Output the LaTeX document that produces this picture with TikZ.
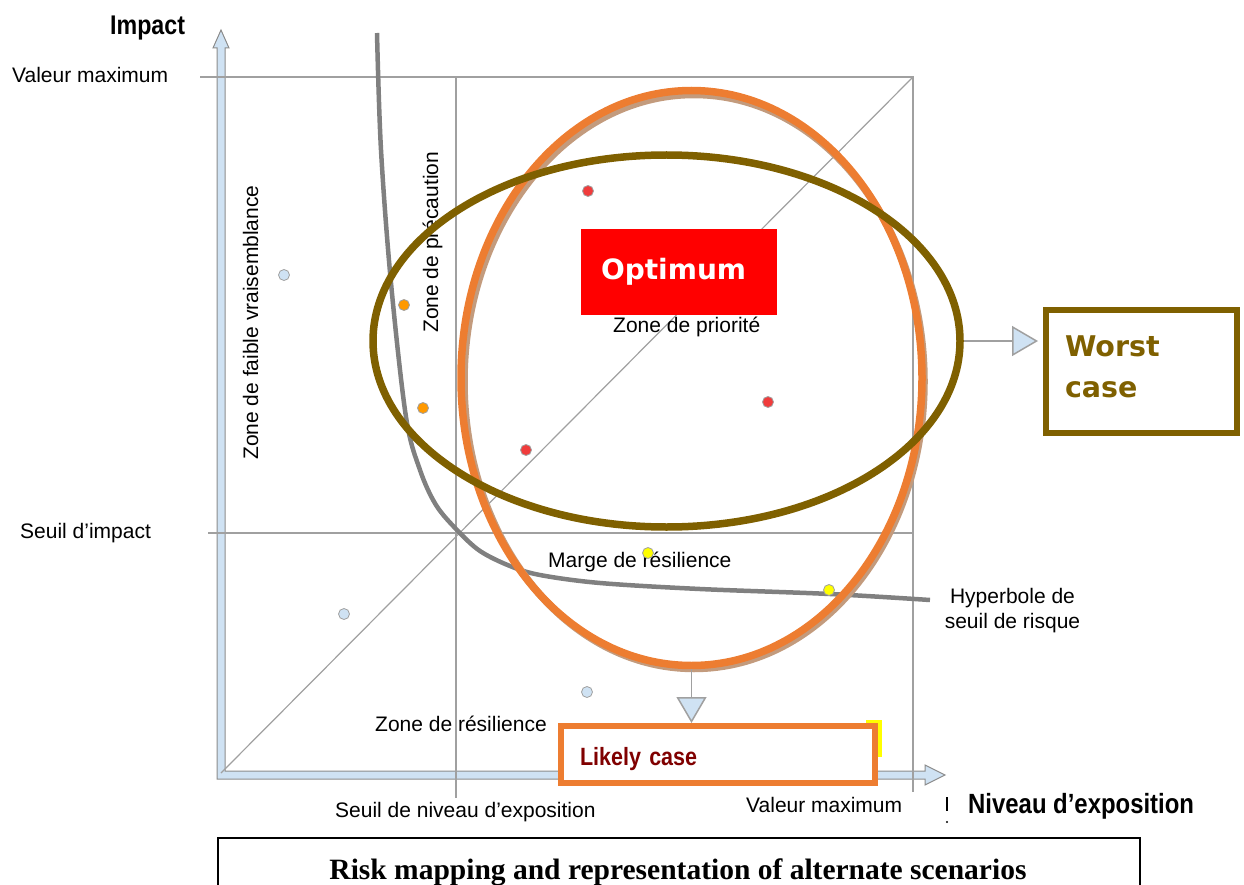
\documentclass[tikz,border=0pt]{standalone}
\usepackage{fontspec}
\setmainfont{Liberation Sans}
\newfontfamily\narrowsans[FakeStretch=0.86]{Liberation Sans}
\newfontfamily\widesans{DejaVu Sans}
\newfontfamily\captionserif{Liberation Serif}
\usetikzlibrary{shapes.geometric,arrows.meta}

\definecolor{axisfill}{HTML}{CFE2F3}
\definecolor{axisline}{HTML}{8C8C8C}
\definecolor{gridline}{HTML}{A0A0A0}
\definecolor{curvegray}{HTML}{808080}
\definecolor{scenolive}{HTML}{7F6000}
\definecolor{scenorange}{HTML}{ED7D31}
\definecolor{shadowbrown}{HTML}{C39B7D}
\definecolor{darkred}{HTML}{800000}
\definecolor{dotorange}{HTML}{FF9900}
\definecolor{dotred}{HTML}{F03C3C}
\definecolor{dotyellow}{HTML}{FFFF00}

\begin{document}
\begin{tikzpicture}[x=1pt,y=-1pt,
  grid/.style={draw=gridline,line width=1.2},
  lbl/.style={font=\fontsize{21}{25}\selectfont,inner sep=0,anchor=base west},
  axislbl/.style={font=\narrowsans\bfseries\fontsize{27}{30}\selectfont,inner sep=0,anchor=base west},
  dot/.style={circle,draw=gridline,line width=0.8,minimum size=11,inner sep=0},
  conn/.style={draw=gridline,line width=1.5,-{Triangle[width=30pt,length=26pt,fill=axisfill]}},
  zone/.style={ellipse,line width=7.5,inner sep=0}]
\useasboundingbox (0,0) rectangle (1244,885);
\clip (0,0) rectangle (1244,885);

% axes (hollow arrows)
\filldraw[fill=axisfill,draw=axisline,line width=1]
  (217,779) -- (217,48) -- (213,48) -- (221,30) -- (229,48) -- (225,48)
  -- (225,771) -- (925,771) -- (925,765) -- (945,775) -- (925,785)
  -- (925,779) -- cycle;

% thresholds and diagonal
\draw[grid] (200,77) -- (913,77) -- (913,792);
\draw[grid] (208,533) -- (913,533);
\draw[grid] (456,77) -- (456,798);
\draw[grid] (221,773) -- (913,77);

% risk threshold hyperbola
\draw[curvegray,line width=4.5] plot[smooth,tension=0.55] coordinates {
  (377,33) (381,150) (391,283) (406,417) (420,470) (436,505) (457,530)
  (480,551) (510,566) (540,575) (600,583) (700,589) (830,594) (930,600)};

% axis labels
\node[axislbl] (impact) at (110,35) {Impact};
\node[axislbl,font=\narrowsans\bfseries\fontsize{27.8}{30}\selectfont] (expo) at (968,813) {Niveau d’exposition};
\node[lbl] (ymax) at (12,83) {Valeur maximum};
\node[lbl] (yseuil) at (20,538) {Seuil d’impact};
\node[lbl] (xseuil) at (335,817) {Seuil de niveau d’exposition};
\node[lbl] (xmax) at (746,812) {Valeur maximum};
\draw[line width=1.5] (947,797) -- (947,811);
\fill (947,822) circle (1.2);

% zone labels
\node[lbl,rotate=90] (faible) at (258,460) {Zone de faible vraisemblance};
\node[lbl,rotate=90] (precaution) at (438,333) {Zone de précaution};
\node[lbl] (priorite) at (613,332) {Zone de priorité};
\node[lbl] (marge) at (548,567) {Marge de résilience};
\node[lbl] (resilience) at (375,731) {Zone de résilience};
\node[font=\fontsize{21}{25}\selectfont,align=center,inner sep=0,anchor=north] (hyper) at (1012.5,588) {Hyperbole de\\seuil de risque};

% risk points
\node[dot,fill=axisfill] (p1) at (284,275) {};
\node[dot,fill=axisfill] (p2) at (344,614) {};
\node[dot,fill=axisfill] (p3) at (587,692) {};
\node[dot,fill=dotorange] (p4) at (404,305) {};
\node[dot,fill=dotorange] (p5) at (423,408) {};
\node[dot,fill=dotred] (p6) at (588,191) {};
\node[dot,fill=dotred] (p7) at (768,402) {};
\node[dot,fill=dotred] (p8) at (526,450) {};
\node[dot,fill=dotyellow] (p9) at (648,553) {};
\node[dot,fill=dotyellow] (p10) at (829,590) {};

% optimum label
\node[fill=red,minimum height=86,text width=156,inner xsep=20,align=left,
  text=white,font=\widesans\bfseries\fontsize{28}{32}\selectfont] (optimum) at (679,272) {Optimum};

% scenario ellipses
\draw[shadowbrown,line width=7.5] (694,381.5) ellipse [x radius=230,y radius=287];
\node[zone,draw=scenorange,minimum width=461,minimum height=575] (likelyzone) at (691.5,378) {};
\node[zone,draw=scenolive,minimum width=587,minimum height=372] (worstzone) at (666.5,341) {};

% scenario boxes
\fill[dotyellow] (866,720) rectangle (882,757);
\node[draw=scenolive,line width=6,minimum width=191,minimum height=123,text width=153,
  inner xsep=19,align=left,text=scenolive,
  font=\widesans\bfseries\fontsize{28.5}{41}\selectfont] (worst) at (1141.5,371.5) {Worst\\case\rule[-10pt]{0pt}{1pt}};
\node[draw=scenorange,fill=white,line width=6,minimum width=314,minimum height=57,text width=276,
  inner xsep=19,align=left,text=darkred,
  font=\narrowsans\bfseries\fontsize{25}{30}\selectfont] (likely) at (718,754.5) {\raisebox{-5pt}[18pt][6pt]{Likely case}};

\draw[conn,shorten >=5pt] (worstzone.east) -- (worstzone.east -| worst.west);
\draw[conn] (likelyzone.south) -- (likelyzone.south |- likely.north);

% caption
\draw[line width=2] (218,905) rectangle (1140,838);
\node[font=\captionserif\bfseries\fontsize{29.5}{32}\selectfont,inner sep=0,anchor=base] (caption) at (678,879) {Risk mapping and representation of alternate scenarios};
\end{tikzpicture}
\end{document}
